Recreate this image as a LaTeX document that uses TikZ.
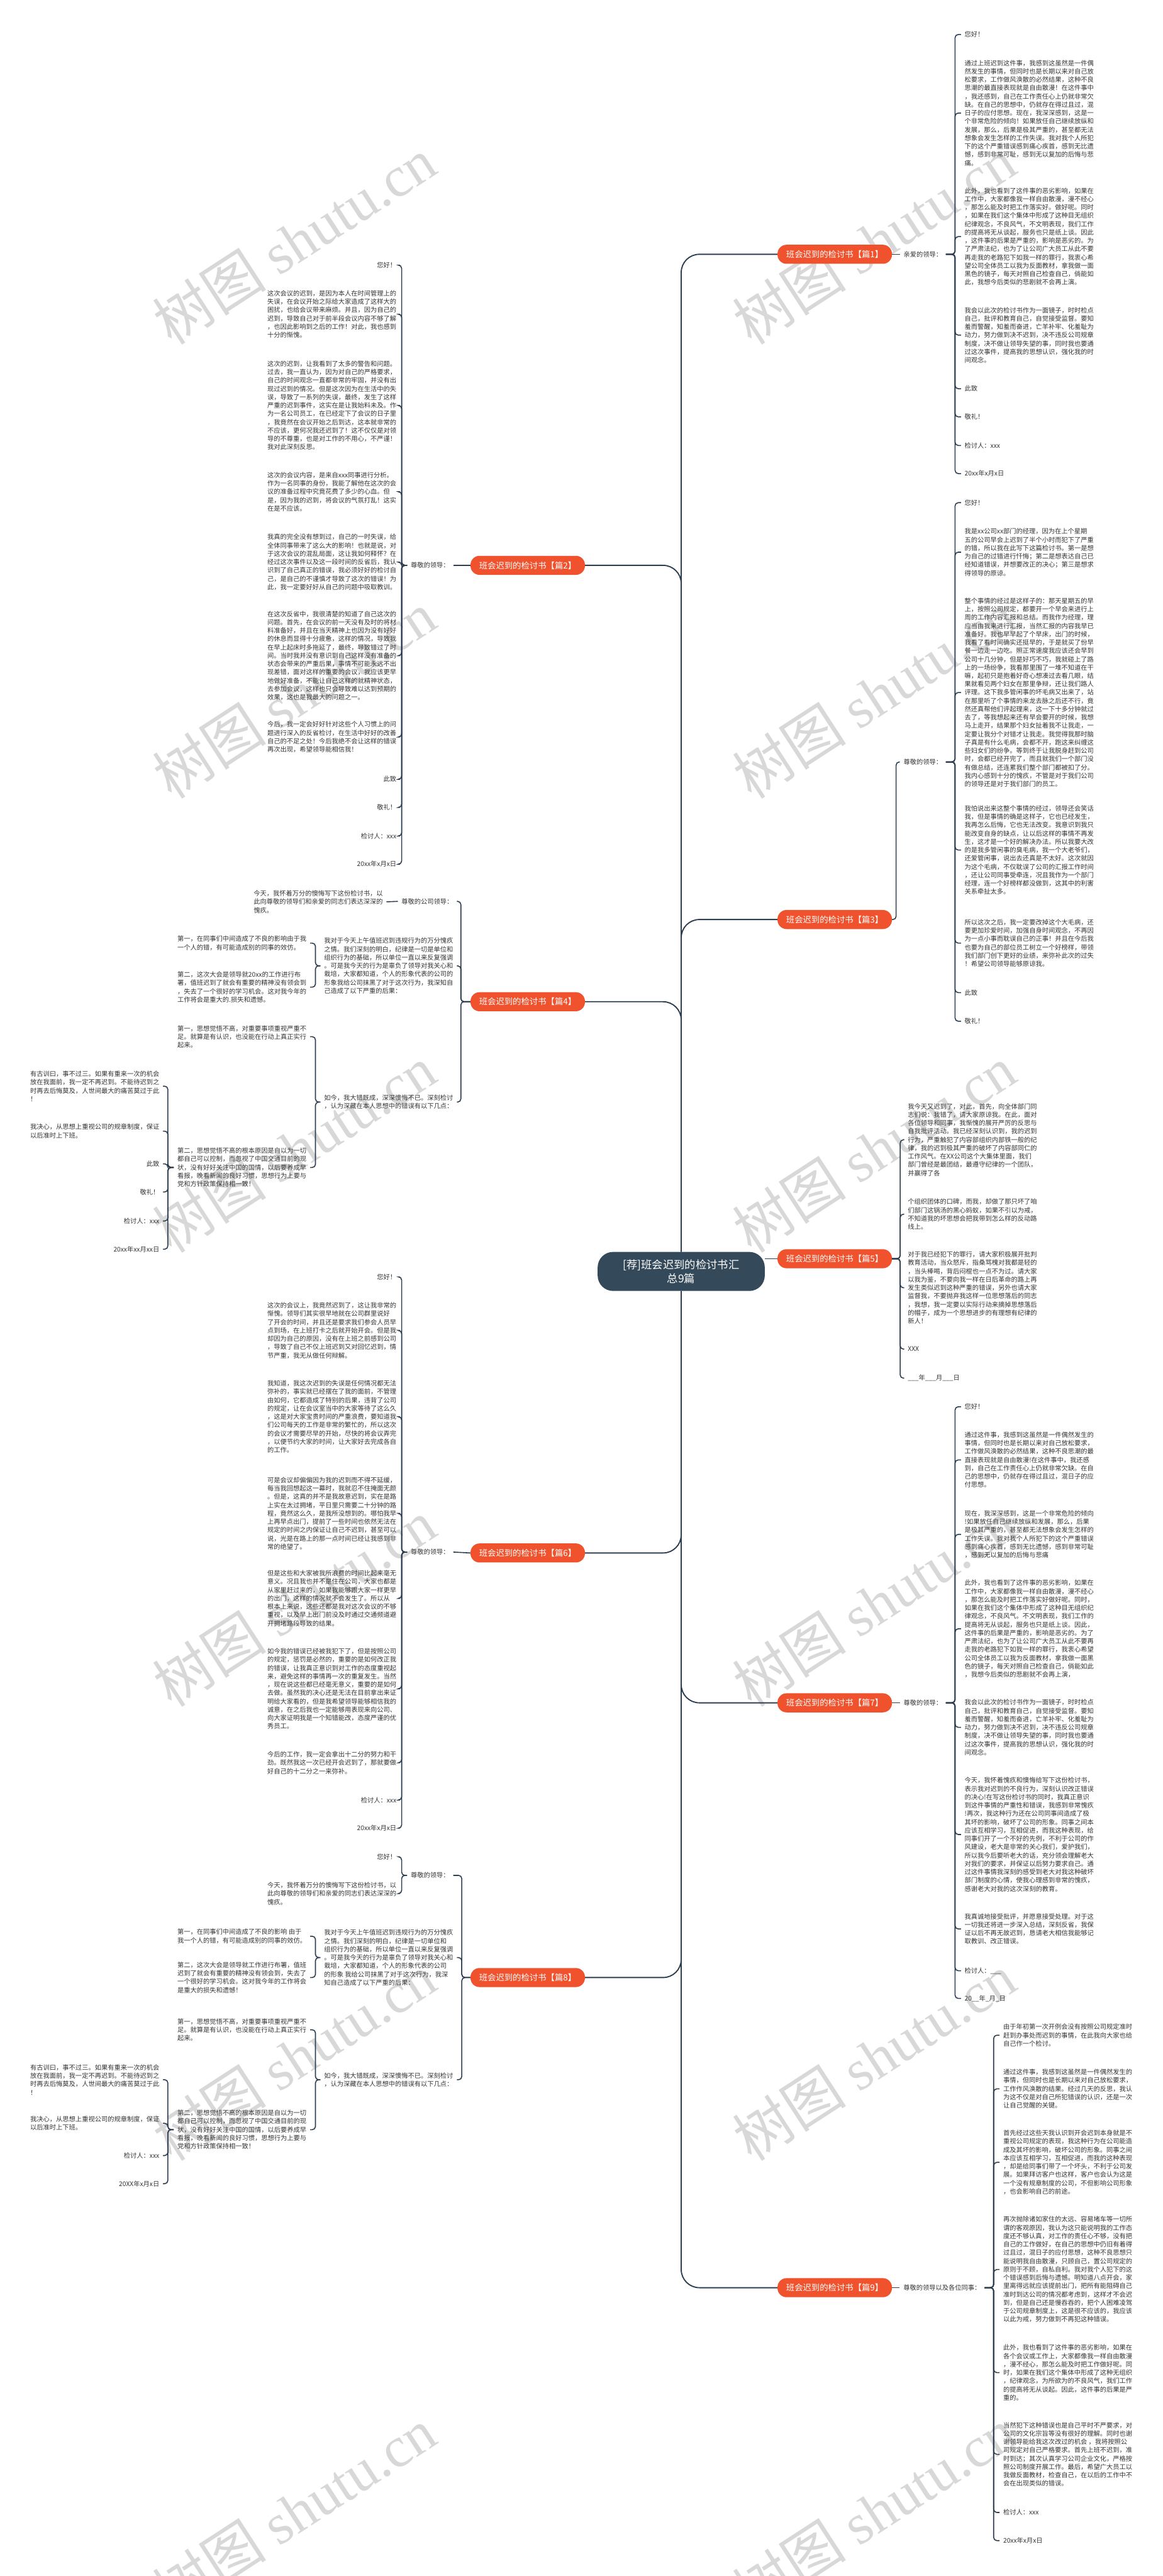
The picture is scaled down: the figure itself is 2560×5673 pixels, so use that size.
\documentclass[tikz,border=0pt]{standalone}
\usepackage{fontspec}
\setmainfont{Noto Sans CJK SC}
\newfontfamily\wmserif{Liberation Serif}
\definecolor{linec}{RGB}{44,62,80}
\definecolor{rootc}{RGB}{52,73,90}
\definecolor{branchc}{RGB}{240,82,45}
\definecolor{textc}{RGB}{51,51,51}
\definecolor{wmc}{RGB}{216,216,216}
\newcommand\lf{\fontsize{14.2}{18.35}\selectfont}
\begin{document}
\begin{tikzpicture}[x=1pt,y=-1pt,
 conn/.style={draw=linec,line width=2.2pt,rounded corners=7pt},
 trunk/.style={draw=linec,line width=2.6pt,rounded corners=40pt},
 root/.style={fill=rootc,rounded corners=34pt,minimum width=368pt,minimum height=86pt,text=white,align=center,font=\fontsize{24}{30}\selectfont,inner sep=0pt},
 branch/.style={fill=branchc,rounded corners=20pt,minimum width=252pt,minimum height=42pt,text=white,font=\fontsize{18.5}{22}\selectfont,inner sep=0pt},
 lbl/.style={font=\lf,text=textc,inner xsep=8pt,inner ysep=1pt},
 leafR/.style={font=\lf,text=textc,anchor=west,align=left,inner xsep=8pt,inner ysep=0pt},
 leafL/.style={font=\lf,text=textc,anchor=east,align=left,inner xsep=8pt,inner ysep=0pt},
 wm/.style={text=wmc,rotate=33,font=\fontsize{126}{130}\selectfont,inner sep=0pt}]
\useasboundingbox (0,0) rectangle (2560,5673);
% watermarks
\foreach \k in {0,...,5}{
 \node[wm] (wmL\k) at (648,530+1000*\k) {树图 {\wmserif shutu.cn}};
 \node[wm] (wmR\k) at (1925,530+1000*\k) {树图 {\wmserif shutu.cn}};
}
% root
\node[root] (root) at (1500,2800) {[荐]班会迟到的检讨书汇\\总9篇};
% branches
\node[branch] (b1) at (1838,560) {班会迟到的检讨书【篇1】};
\node[branch] (b3) at (1838,2025) {班会迟到的检讨书【篇3】};
\node[branch] (b5) at (1838,2772) {班会迟到的检讨书【篇5】};
\node[branch] (b7) at (1838,3750) {班会迟到的检讨书【篇7】};
\node[branch] (b9) at (1838,5038) {班会迟到的检讨书【篇9】};
\node[branch] (b2) at (1162,1245) {班会迟到的检讨书【篇2】};
\node[branch] (b4) at (1162,2206) {班会迟到的检讨书【篇4】};
\node[branch] (b6) at (1162,3420) {班会迟到的检讨书【篇6】};
\node[branch] (b8) at (1162,4355) {班会迟到的检讨书【篇8】};
\draw[trunk] (root.north) |- (b1.west);
\draw[trunk] (root.north) |- (b3.west);
\draw[trunk] (root.north) |- (b2.east);
\draw[trunk] (root.north) |- (b4.east);
\draw[trunk] (root.south) |- (b7.west);
\draw[trunk] (root.south) |- (b9.west);
\draw[trunk] (root.south) |- (b6.east);
\draw[trunk] (root.south) |- (b8.east);
\draw[trunk] (root.east |- b5.west) -- (b5.west);

% ===== 篇1 =====
\node[lbl,anchor=east] (l1) at (2083,560) {亲爱的领导：};
\draw[conn] (b1.east) -- (l1.west);
\node[leafR] (r1a) at (2116,76) {您好！};
\node[leafR] (r1b) at (2116,249) {通过上班迟到这件事，我感到这虽然是一件偶\\然发生的事情，但同时也是长期以来对自己放\\松要求，工作做风涣散的必然结果，这种不良\\思潮的最直接表现就是自由散漫！在这件事中\\，我还感到，自己在工作责任心上仍就非常欠\\缺。在自己的思想中，仍就存在得过且过，混\\日子的应付思想。现在，我深深感到，这是一\\个非常危险的倾向！如果放任自己继续放纵和\\发展，那么，后果是极其严重的，甚至都无法\\想象会发生怎样的工作失误。我对我个人所犯\\下的这个严重错误感到痛心疾首，感到无比遗\\憾，感到非常可耻，感到无以复加的后悔与悲\\痛。};
\node[leafR] (r1c) at (2116,521) {此外，我也看到了这件事的恶劣影响，如果在\\工作中，大家都像我一样自由散漫，漫不经心\\，那怎么能及时把工作落实好。做好呢。同时\\，如果在我们这个集体中形成了这种目无组织\\纪律观念，不良风气，不文明表现，我们工作\\的提高将无从谈起，服务也只是纸上谈。因此\\，这件事的后果是严重的，影响是恶劣的。为\\了严肃法纪，也为了让公司广大员工从此不要\\再走我的老路犯下如我一样的罪行，我衷心希\\望公司全体员工以我为反面教材，拿我做一面\\黑色的镜子，每天对照自己检查自己，倘能如\\此，我想今后类似的悲剧就不会再上演。};
\node[leafR] (r1d) at (2116,738) {我会以此次的检讨书作为一面镜子，时时检点\\自己，批评和教育自己，自觉接受监督。要知\\羞而警醒，知羞而奋进，亡羊补牢、化羞耻为\\动力，努力做到决不迟到，决不违反公司规章\\制度，决不做让领导失望的事，同时我也要通\\过这次事件，提高我的思想认识，强化我的时\\间观念。};
\node[leafR] (r1e) at (2116,856) {此致};
\node[leafR] (r1f) at (2116,918) {敬礼！};
\node[leafR] (r1g) at (2116,981) {检讨人：xxx};
\node[leafR] (r1h) at (2116,1043) {20xx年x月x日};
\foreach \c in {r1a,r1b,r1c,r1d,r1e,r1f,r1g,r1h} \draw[conn] (l1.east) -- ++(20,0) |- (\c.west);

% ===== 篇3 =====
\node[lbl,anchor=east] (l3) at (2083,1678) {尊敬的领导：};
\draw[conn] (b3.east) -- ++(9,0) |- (l3.west);
\node[leafR] (r3a) at (2116,1107) {您好！};
\node[leafR] (r3b) at (2116,1216) {我是xx公司xx部门的经理，因为在上个星期\\五的公司早会上迟到了半个小时而犯下了严重\\的错，所以我在此写下这篇检讨书。第一是想\\为自己的过错进行忏悔；第二是想表达自己已\\经知道错误，并想要改正的决心；第三是想求\\得领导的原谅。};
\node[leafR] (r3c) at (2116,1525) {整个事情的经过是这样子的：那天星期五的早\\上，按照公司规定，都要开一个早会来进行上\\周的工作内容汇报和总结。而我作为经理，理\\应当由我来进行汇报，当然汇报的内容我早已\\准备好。我也早早起了个早床，出门的时候，\\我看了看时间确实还挺早的，于是就买了份早\\餐一边走一边吃。照正常速度我应该还会早到\\公司十几分钟，但是好巧不巧，我就碰上了路\\上的一场纷争，我看那里围了一堆不知道在干\\嘛，起初只是抱着好奇心想凑过去看几眼，结\\果就看见两个妇女在那里争辩，还让我们路人\\评理。这下我多管闲事的坏毛病又出来了，站\\在那里听了个事情的来龙去脉之后还不行，竟\\然还真帮他们评起理来，这一下十多分钟就过\\去了，等我想起来还有早会要开的时候，我想\\马上走开，结果那个妇女扯着我不让我走，一\\定要让我分个对错才让我走。我觉得我那时脑\\子真是有什么毛病，会都不开，跑这来纠缠这\\些妇女们的纷争。等到终于让我脱身赶到公司\\时，会都已经开完了，而且就我们一个部门没\\有做总结，还连累我们整个部门都被扣了分。\\我内心感到十分的愧疚，不管是对于我们公司\\的领导还是对于我们部门的员工。};
\node[leafR] (r3d) at (2116,1872) {我怕说出来这整个事情的经过，领导还会笑话\\我，但是事情的确是这样子，它也已经发生，\\我再怎么后悔，它也无法改变。我意识到我只\\能改变自身的缺点，让以后这样的事情不再发\\生，这才是一个好的解决办法。所以我要大改\\的是我多管闲事的臭毛病，我一个大老爷们，\\还爱管闲事，说出去还真是不太好。这次就因\\为这个毛病，不仅耽误了公司的汇报工作时间\\，还让公司同事受牵连，况且我作为一个部门\\经理，连一个好榜样都没做到，这其中的利害\\关系牵扯太多。};
\node[leafR] (r3e) at (2116,2077) {所以这次之后，我一定要改掉这个大毛病，还\\要更加珍爱时间，加强自身时间观念，不再因\\为一点小事而耽误自己的正事！并且在今后我\\也要为自己的部位员工树立一个好榜样，带领\\我们部门创下更好的业绩，来弥补此次的过失\\！希望公司领导能够原谅我。};
\node[leafR] (r3f) at (2116,2186) {此致};
\node[leafR] (r3g) at (2116,2249) {敬礼！};
\foreach \c in {r3a,r3b,r3c,r3d,r3e,r3f,r3g} \draw[conn] (l3.east) -- ++(20,0) |- (\c.west);

% ===== 篇5 =====
\node[leafR] (r5a) at (1991,2510) {我今天又迟到了，对此，首先，向全体部门同\\志们说：我错了，请大家原谅我。在此，面对\\各位领导和同事，我惭愧的展开严厉的反思与\\自我批评活动。我已经深刻认识到，我的迟到\\行为，严重触犯了内容部组织内部铁一般的纪\\律，我的迟到极其严重的破坏了内容部同仁的\\工作风气。在XX公司这个大集体里面，我们\\部门曾经是最团结，最遵守纪律的一个团队，\\并赢得了各};
\node[leafR] (r5b) at (1991,2674) {个组织团体的口碑，而我，却做了那只坏了咱\\们部门这锅汤的黑心蚂蚁，如果不引以为戒，\\不知道我的坏思想会把我带到怎么样的反动路\\线上。};
\node[leafR] (r5c) at (1991,2836) {对于我已经犯下的罪行，请大家积极展开批判\\教育活动，当众怒斥，指桑骂槐对我都是轻的\\，当头棒喝，背后闷棍也一点不为过。请大家\\以我为鉴，不要向我一样在日后革命的路上再\\发生类似迟到这种严重的错误，另外也请大家\\监督我，不要抛弃我这样一位思想落后的同志\\，我想，我一定要以实际行动来摘掉思想落后\\的帽子，成为一个思想进步的有理想有纪律的\\新人！};
\node[leafR] (r5d) at (1991,2971) {XXX};
\node[leafR] (r5e) at (1991,3035) {\_\_\_年\_\_\_月\_\_\_日};
\foreach \c in {r5a,r5b,r5c,r5d,r5e} \draw[conn] (b5.east) -- ++(18,0) |- (\c.west);

% ===== 篇7 =====
\node[lbl,anchor=east] (l7) at (2083,3750) {尊敬的领导：};
\draw[conn] (b7.east) -- (l7.west);
\node[leafR] (r7a) at (2116,3098) {您好！};
\node[leafR] (r7b) at (2116,3215) {通过这件事，我感到这虽然是一件偶然发生的\\事情，但同时也是长期以来对自己放松要求，\\工作做风涣散的必然结果，这种不良思潮的最\\直接表现就是自由散漫!在这件事中，我还感\\到，自己在工作责任心上仍就非常欠缺。在自\\己的思想中，仍就存在得过且过，混日子的应\\付思想。};
\node[leafR] (r7c) at (2116,3379) {现在，我深深感到，这是一个非常危险的倾向\\!如果放任自己继续放纵和发展，那么，后果\\是极其严重的，甚至都无法想象会发生怎样的\\工作失误。我对我个人所犯下的这个严重错误\\感到痛心疾首，感到无比遗憾，感到非常可耻\\，感到无以复加的后悔与悲痛};
\node[leafR] (r7d) at (2116,3587) {此外，我也看到了这件事的恶劣影响，如果在\\工作中，大家都像我一样自由散漫，漫不经心\\，那怎么能及时把工作落实好做好呢。同时，\\如果在我们这个集体中形成了这种目无组织纪\\律观念，不良风气。不文明表现，我们工作的\\提高将无从谈起，服务也只是纸上谈。因此，\\这件事的后果是严重的，影响是恶劣的。为了\\严肃法纪，也为了让公司广大员工从此不要再\\走我的老路犯下如我一样的罪行，我衷心希望\\公司全体员工以我为反面教材，拿我做一面黑\\色的镜子，每天对照自己检查自己，倘能如此\\，我想今后类似的悲剧就不会再上演，};
\node[leafR] (r7e) at (2116,3804) {我会以此次的检讨书作为一面镜子，时时检点\\自己，批评和教育自己，自觉接受监督。要知\\羞而警醒，知羞而奋进，亡羊补牢、化羞耻为\\动力，努力做到决不迟到，决不违反公司规章\\制度，决不做让领导失望的事，同时我也要通\\过这次事件，提高我的思想认识，强化我的时\\间观念。};
\node[leafR] (r7f) at (2116,4040) {今天，我怀着愧疚和懊悔给写下这份检讨书，\\表示我对迟到的不良行为，深刻认识改正错误\\的决心!在写这份检讨书的同时，我真正意识\\到这件事情的严重性和错误，我感到非常愧疚\\!再次，我这种行为还在公司同事间造成了极\\其坏的影响，破坏了公司的形象。同事之间本\\应该互相学习，互相促进，而我这种表现，给\\同事们开了一个不好的先例，不利于公司的作\\风建设，老大是非常的关心我们，爱护我们，\\所以我今后要听老大的话，充分领会理解老大\\对我们的要求，并保证以后努力要求自己。通\\过这件事情我深刻的感受到老大对我这种破坏\\部门制度的心情，使我心理感到非常的愧疚，\\感谢老大对我的这次深刻的教育。};
\node[leafR] (r7g) at (2116,4248) {我真诚地接受批评，并愿意接受处理。对于这\\一切我还将进一步深入总结，深刻反省，我保\\证以后不再无故迟到，恳请老大相信我能够记\\取教训、改正错误。};
\node[leafR] (r7h) at (2116,4340) {检讨人：\_\_\_};
\node[leafR] (r7i) at (2116,4401) {20\_\_年\_月\_日};
\foreach \c in {r7a,r7b,r7c,r7d,r7e,r7f,r7g,r7h,r7i} \draw[conn] (l7.east) -- ++(20,0) |- (\c.west);

% ===== 篇9 =====
\node[lbl,anchor=east] (l9) at (2168,5038) {尊敬的领导以及各位同事：};
\draw[conn] (b9.east) -- (l9.west);
\node[leafR] (r9a) at (2201,4482) {由于年初第一次开例会没有按照公司规定准时\\赶到办事处而迟到的事情，在此我向大家也给\\自己作一个检讨。};
\node[leafR] (r9b) at (2201,4600) {通过这件事，我感到这虽然是一件偶然发生的\\事情，但同时也是长期以来对自己放松要求，\\工作作风涣散的结果。经过几天的反思，我认\\为这不仅是对自己所犯错误的认识，还是一次\\让自己觉醒的关键。};
\node[leafR] (r9c) at (2201,4762) {首先经过这些天我认识到开会迟到本身就是不\\重视公司规定的表现，我这种行为在公司能造\\成及其坏的影响，破坏公司的形象。同事之间\\本应该互相学习，互相促进，而我的这种表现\\，却是给同事们带了一个坏头，不利于公司发\\展。如果拜访客户也这样，客户也会认为这是\\一个没有规章制度的公司，不但影响公司形象\\，也会影响自己的前途。};
\node[leafR] (r9d) at (2201,4998) {再次抛除诸如家住的太远、容易堵车等一切所\\谓的客观原因，我认为这只能说明我的工作态\\度还不够认真，对工作的责任心不够，没有把\\自己的工作做好，在自己的思想中仍旧有着得\\过且过，混日子的应付思想，这种不良思想只\\能说明我自由散漫，只顾自己，置公司规定的\\原则于不顾，自私自利。我对我个人犯下的这\\个错误感到后悔与遗憾。明知道八点开会，家\\里离得远就应该提前出门，把所有能阻碍自己\\准时到达公司的情况都考虑到，这样才不会迟\\到，但是自己还是慢吞吞的，把个人困难凌驾\\于公司规章制度上，这是很不应该的，我应该\\以此为戒，努力做到不再犯这种错误。};
\node[leafR] (r9e) at (2201,5225) {此外，我也看到了这件事的恶劣影响，如果在\\各个会议或工作上，大家都像我一样自由散漫\\，漫不经心，那怎么能及时把工作做好呢。同\\时，如果在我们这个集体中形成了这种无组织\\，纪律观念，为所欲为的不良风气，我们工作\\的提高将无从谈起。因此，这件事的后果是严\\重的。};
\node[leafR] (r9f) at (2201,5405) {当然犯下这种错误也是自己平时不严要求，对\\公司的文化宗旨等没有很好的理解。同时也谢\\谢领导能给我这次改过的机会 ，我将按照公\\司规定对自己严格要求。首先上班不迟到，准\\时到达；其次认真学习公司企业文化，严格按\\照公司制度开展工作。最后，希望广大员工以\\我做反面教材，检查自己，在以后的工作中不\\会在出现类似的错误。};
\node[leafR] (r9g) at (2201,5533) {检讨人：xxx};
\node[leafR] (r9h) at (2201,5595) {20xx年x月x日};
\foreach \c in {r9a,r9b,r9c,r9d,r9e,r9f,r9g,r9h} \draw[conn] (l9.east) -- ++(20,0) |- (\c.west);

% ===== 篇2 =====
\node[lbl,anchor=east] (l2) at (998,1245) {尊敬的领导：};
\draw[conn] (b2.west) -- (l2.east);
\node[leafL] (q2a) at (881,584) {您好！};
\node[leafL] (q2b) at (881,692) {这次会议的迟到，是因为本人在时间管理上的\\失误，在会议开始之际给大家造成了这样大的\\困扰，也给会议带来麻烦。并且，因为自己的\\迟到，导致自己对于前半段会议内容不够了解\\，也因此影响到之后的工作！对此，我也感到\\十分的惭愧。};
\node[leafL] (q2c) at (881,893) {这次的迟到，让我看到了太多的警告和问题。\\过去，我一直认为，因为对自己的严格要求，\\自己的时间观念一直都非常的牢固，并没有出\\现过迟到的情况。但是这次因为在生活中的失\\误，导致了一系列的失误，最终，发生了这样\\严重的迟到事件，这实在是让我始料未及。作\\为一名公司员工，在已经定下了会议的日子里\\，我竟然在会议开始之后到达，这本就非常的\\不应该，更何况我还迟到了！这不仅仅是对领\\导的不尊重，也是对工作的不用心，不严谨！\\我对此深刻反思。};
\node[leafL] (q2d) at (881,1083) {这次的会议内容，是来自xxx同事进行分析。\\作为一名同事的身份，我能了解他在这次的会\\议的准备过程中究竟花费了多少的心血。但\\是，因为我的迟到，将会议的气氛打乱！这实\\在是不应该。};
\node[leafL] (q2e) at (881,1238) {我真的完全没有想到过，自己的一时失误，给\\全体同事带来了这么大的影响！也就是说，对\\于这次会议的混乱局面，这让我如何释怀？在\\经过这次事件以及这一段时间的反省后，我认\\识到了自己真正的错误，我必须好好的检讨自\\己，是自己的不谨慎才导致了这次的错误！为\\此，我一定要好好从自己的问题中吸取教训。};
\node[leafL] (q2f) at (881,1444) {在这次反省中，我很清楚的知道了自己这次的\\问题。首先，在会议的前一天没有及时的将材\\料准备好，并且在当天精神上也因为没有好好\\的休息而显得十分疲惫，这样的情况，导致我\\在早上起床时多拖延了，最终，导致错过了时\\间。当时我并没有意识到自己这样没有准备的\\状态会带来的严重后果，事情不可能永远不出\\现差错，面对这样的重要的会议，我应该更早\\地做好准备，不能让自己这样的就精神状态，\\去参加会议，这样也只会导致难以达到预期的\\效果，这也是我最大的问题之一。};
\node[leafL] (q2g) at (881,1623) {今后，我一定会好好针对这些个人习惯上的问\\题进行深入的反省检讨，在生活中好好的改善\\自己的不足之处！今后我绝不会让这样的错误\\再次出现，希望领导能相信我！};
\node[leafL] (q2h) at (881,1716) {此致};
\node[leafL] (q2i) at (881,1778) {敬礼！};
\node[leafL] (q2j) at (881,1841) {检讨人：xxx};
\node[leafL] (q2k) at (881,1903) {20xx年x月x日};
\foreach \c in {q2a,q2b,q2c,q2d,q2e,q2f,q2g,q2h,q2i,q2j,q2k} \draw[conn] (l2.west) -- ++(-12,0) |- (\c.east);

% ===== 篇4 =====
\node[leafL] (q4a) at (1006,1985) {尊敬的公司领导：};
\node[leafL] (q4a1) at (851,1986) {今天，我怀着万分的懊悔写下这份检讨书，以\\此向尊敬的领导们和亲爱的同志们表达深深的\\愧疚。};
\draw[conn] (q4a.west) -- (q4a1.east);
\node[leafL] (q4b) at (1006,2127) {我对于今天上午值班迟到违规行为的万分愧疚\\之情。我们深刻的明白，纪律是一切是单位和\\组织行为的基础，所以单位一直以来反复强调\\。可是我今天的行为是辜负了领导对我关心和\\栽培，大家都知道，个人的形象代表的公司的\\形象我给公司抹黑了对于这次行为，我深知自\\己造成了以下严重的后果：};
\node[leafL] (q4b1) at (683,2077) {第一，在同事们中间造成了不良的影响由于我\\一个人的错，有可能造成别的同事的效仿。};
\node[leafL] (q4b2) at (683,2174) {第二，这次大会是领导就20xx的工作进行布\\署，值班迟到了就会有重要的精神没有领会到\\，失去了一个很好的学习机会。这对我今年的\\工作将会是重大的.损失和遗憾。};
\node[leafL] (q4c) at (1006,2427) {如今，我大错既成，深深懊悔不已。深刻检讨\\，认为深藏在本人思想中的错误有以下几点：};
\node[leafL] (q4c1) at (683,2283) {第一，思想觉悟不高，对重要事项重视严重不\\足。就算是有认识，也没能在行动上真正实行\\起来。};
\node[leafL] (q4c2) at (683,2571) {第二，思想觉悟不高的根本原因是自以为一切\\都自己可以控制，而忽视了中国交通目前的现\\状，没有好好关注中国的国情，以后要养成早\\看报，晚看新闻的良好习惯，思想行为上要与\\党和方针政策保持相一致！};
\node[leafL] (q4d1) at (359,2392) {有古训曰，事不过三。如果有重来一次的机会\\放在我面前，我一定不再迟到。不能待迟到之\\时再去后悔莫及，人世间最大的痛苦莫过于此\\！};
\node[leafL] (q4d2) at (359,2491) {我决心，从思想上重视公司的规章制度，保证\\以后准时上下班。};
\node[leafL] (q4d3) at (359,2563) {此致};
\node[leafL] (q4d4) at (359,2625) {敬礼！};
\node[leafL] (q4d5) at (359,2689) {检讨人：xxx};
\node[leafL] (q4d6) at (359,2751) {20xx年xx月xx日};
\foreach \c in {q4a,q4b,q4c} \draw[conn] (b4.west) -- ++(-21,0) |- (\c.east);
\foreach \c in {q4b1,q4b2} \draw[conn] (q4b.west) -- ++(-11,0) |- (\c.east);
\foreach \c in {q4c1,q4c2} \draw[conn] (q4c.west) -- ++(-11,0) |- (\c.east);
\foreach \c in {q4d1,q4d2,q4d3,q4d4,q4d5,q4d6} \draw[conn] (q4c2.west) -- ++(-13,0) |- (\c.east);

% ===== 篇6 =====
\node[lbl,anchor=east] (l6) at (998,3418) {尊敬的领导：};
\draw[conn] (b6.west) -- (l6.east);
\node[leafL] (q6a) at (881,2812) {您好！};
\node[leafL] (q6b) at (881,2930) {这次的会议上，我竟然迟到了，这让我非常的\\惭愧。领导们其实很早地就在公司群里说好\\了开会的时间，并且还是要求我们参会人员早\\点到场，在上班打卡之后就开始开会。但是我\\却因为自己的原因，没有在上班之前感到公司\\，导致了自己不仅上班迟到又对回忆迟到，情\\节严重，我无从做任何辩解。};
\node[leafL] (q6c) at (881,3120) {我知道，我这次迟到的失误是任何情况都无法\\弥补的，事实就已经摆在了我的面前，不管理\\由如何，它都造成了特别的后果，违背了公司\\的规定，让在会议室当中的大家等待了这么久\\，这是对大家宝贵时间的严重浪费，要知道我\\们公司每天的工作是非常的繁忙的，所以这次\\的会议才需要尽早的开始，尽快的将会议弄完\\，以便节约大家的时间，让大家好去完成各自\\的工作。};
\node[leafL] (q6d) at (881,3333) {可是会议却偏偏因为我的迟到而不得不延缓，\\每当我回想起这一幕时，我就忍不住掩面无颜\\。但是，这真的并不是我故意迟到，实在是路\\上实在太过拥堵，平日里只需要二十分钟的路\\程，竟然这么久，是我所没想到的。哪怕我早\\上再早点出门，提前了一些时间也依然无法在\\规定的时间之内保证让自己不迟到，甚至可以\\说，光是在路上的那一点时间已经让我感到非\\常的绝望了。};
\node[leafL] (q6e) at (881,3520) {但是这些和大家被我所浪费的时间比起来毫无\\意义。况且我也并不是住在公司，大家也都是\\从家里赶过来的，如果我能够跟大家一样更早\\的出门，这样的情况就不会发生了。所以从\\根本上来说，这些还都是我对这次会议的不够\\重视，以及早上出门前没及时通过交通频道避\\开拥堵路段导致的结果。};
\node[leafL] (q6f) at (881,3719) {如今我的错误已经被我犯下了，但是按照公司\\的规定，惩罚是必然的，重要的是如何改正我\\的错误，让我真正意识到对工作的态度重视起\\来，避免这样的事情再一次的重复发生。当然\\，现在说这些都已经毫无意义，重要的是如何\\去做。虽然我的决心还是无法在目前拿出来证\\明给大家看的，但是我希望领导能够相信我的\\诚意，在之后我也一定能够用表现来向公司、\\向大家证明我是一个知错能改，态度严谨的优\\秀员工。};
\node[leafL] (q6g) at (881,3882) {今后的工作，我一定会拿出十二分的努力和干\\劲。既然我这一次已经开会迟到了，那就要做\\好自己的十二分之一来弥补。};
\node[leafL] (q6h) at (881,3964) {检讨人：xxx};
\node[leafL] (q6i) at (881,4026) {20xx年x月x日};
\foreach \c in {q6a,q6b,q6c,q6d,q6e,q6f,q6g,q6h,q6i} \draw[conn] (l6.west) -- ++(-12,0) |- (\c.east);

% ===== 篇8 =====
\node[lbl,anchor=east] (l8) at (998,4130) {尊敬的领导：};
\node[leafL] (q8a1) at (881,4089) {您好！};
\node[leafL] (q8a2) at (881,4170) {今天，我怀着万分的懊悔写下这份检讨书，以\\此向尊敬的领导们和亲爱的同志们表达深深的\\愧疚。};
\foreach \c in {q8a1,q8a2} \draw[conn] (l8.west) -- ++(-12,0) |- (\c.east);
\node[leafL] (q8b) at (1006,4311) {我对于今天上午值班迟到违规行为的万分愧疚\\之情。我们深刻的明白，纪律是一切单位和\\组织行为的基础，所以单位一直以来反复强调\\。可是我今天的行为是辜负了领导对我关心和\\栽培，大家都知道，个人的形象代表的公司\\的形象 我给公司抹黑了对于这次行为，我深\\知自己造成了以下严重的后果：};
\node[leafL] (q8b1) at (683,4264) {第一，在同事们中间造成了不良的影响 由于\\我一个人的错，有可能造成别的同事的效仿。};
\node[leafL] (q8b2) at (683,4355) {第二，这次大会是领导就工作进行布署，值班\\迟到了就会有重要的精神没有领会到，失去了\\一个很好的学习机会。这对我今年的工作将会\\是重大的损失和遗憾！};
\node[leafL] (q8c) at (1006,4580) {如今，我大错既成，深深懊悔不已。深刻检讨\\，认为深藏在本人思想中的错误有以下几点：};
\node[leafL] (q8c1) at (683,4470) {第一，思想觉悟不高，对重要事项重视严重不\\足。就算是有认识，也没能在行动上真正实行\\起来。};
\node[leafL] (q8c2) at (683,4690) {第二，思想觉悟不高的根本原因是自以为一切\\都自己可以控制，而忽视了中国交通目前的现\\状，没有好好关注中国的国情，以后要养成早\\看报，晚看新闻的良好习惯，思想行为上要与\\党和方针政策保持相一致！};
\node[leafL] (q8d1) at (359,4580) {有古训曰，事不过三。如果有重来一次的机会\\放在我面前，我一定不再迟到。不能待迟到之\\时再去后悔莫及，人世间最大的痛苦莫过于此\\！};
\node[leafL] (q8d2) at (359,4676) {我决心，从思想上重视公司的规章制度，保证\\以后准时上下班。};
\node[leafL] (q8d3) at (359,4747) {检讨人：xxx};
\node[leafL] (q8d4) at (359,4809) {20XX年x月x日};
\foreach \c in {l8,q8b,q8c} \draw[conn] (b8.west) -- ++(-19,0) |- (\c.east);
\foreach \c in {q8b1,q8b2} \draw[conn] (q8b.west) -- ++(-11,0) |- (\c.east);
\foreach \c in {q8c1,q8c2} \draw[conn] (q8c.west) -- ++(-11,0) |- (\c.east);
\foreach \c in {q8d1,q8d2,q8d3,q8d4} \draw[conn] (q8c2.west) -- ++(-13,0) |- (\c.east);
\end{tikzpicture}
\end{document}
